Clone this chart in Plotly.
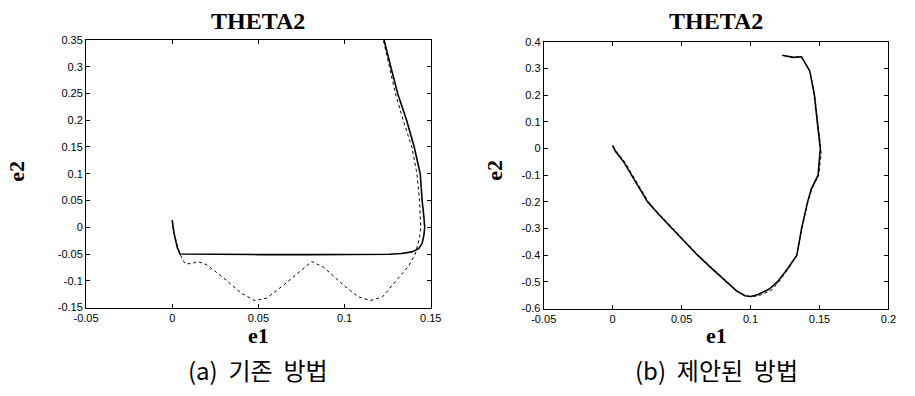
import plotly.graph_objects as go

# ---- data: panel (a) conventional method ----
a_solid_e1 = [0.000, 0.0005, 0.001, 0.002, 0.003, 0.0045, 0.02, 0.05, 0.08, 0.11, 0.126, 0.133, 0.139, 0.143,
              0.145, 0.146, 0.1465, 0.146, 0.145, 0.1439, 0.1404, 0.136, 0.1308, 0.1268, 0.1229]
a_solid_e2 = [0.013, 0.0, -0.01, -0.025, -0.038, -0.05, -0.0505, -0.051, -0.051, -0.051, -0.0505, -0.049, -0.046, -0.04,
              -0.03, -0.015, 0.0, 0.02, 0.05, 0.1, 0.15, 0.2, 0.25, 0.3, 0.35]
a_dash_e1 = [0.000, 0.001, 0.003, 0.0045, 0.0074, 0.011, 0.015, 0.02, 0.03, 0.04, 0.048, 0.055, 0.065, 0.075, 0.081,
             0.088, 0.1, 0.108, 0.115, 0.122, 0.13, 0.137, 0.141, 0.1435, 0.1442, 0.1435, 0.142, 0.139, 0.134,
             0.1295, 0.126, 0.1225]
a_dash_e2 = [0.013, -0.01, -0.035, -0.05, -0.068, -0.068, -0.064, -0.07, -0.095, -0.123, -0.137, -0.132, -0.107, -0.08,
             -0.064, -0.075, -0.11, -0.13, -0.137, -0.13, -0.1, -0.073, -0.05, -0.02, 0.0, 0.05, 0.1, 0.15, 0.2,
             0.25, 0.3, 0.35]

# ---- data: panel (b) proposed method ----
b_solid_e1 = [0.000, 0.002, 0.008, 0.016, 0.0253, 0.034, 0.043, 0.052, 0.0616, 0.072, 0.0828, 0.09, 0.096, 0.1,
              0.105, 0.1136, 0.1195, 0.127, 0.1336, 0.137, 0.1414, 0.1442, 0.149, 0.1506, 0.1506, 0.1484, 0.1463,
              0.143, 0.139, 0.137, 0.131, 0.127, 0.123]
b_solid_e2 = [0.011, -0.01, -0.05, -0.12, -0.2, -0.25, -0.3, -0.35, -0.4, -0.45, -0.5, -0.535, -0.552, -0.555,
              -0.548, -0.527, -0.5, -0.45, -0.4, -0.3, -0.2, -0.15, -0.1, -0.02, 0.0, 0.1, 0.2,
              0.29, 0.33, 0.344, 0.342, 0.345, 0.35]
b_dash_e1 = [0.000, 0.003, 0.009, 0.017, 0.026, 0.035, 0.044, 0.053, 0.062, 0.073, 0.083, 0.091, 0.097, 0.101,
             0.107, 0.115, 0.1205, 0.1275, 0.1335, 0.1372, 0.1416, 0.1445, 0.1495, 0.1512, 0.151, 0.1488, 0.1465,
             0.143, 0.139, 0.137, 0.131, 0.127, 0.123]
b_dash_e2 = [0.011, -0.012, -0.052, -0.122, -0.2, -0.252, -0.3, -0.352, -0.4, -0.452, -0.5, -0.537, -0.553, -0.556,
             -0.55, -0.532, -0.5, -0.45, -0.4, -0.3, -0.2, -0.15, -0.1, -0.02, 0.0, 0.1, 0.2,
             0.29, 0.33, 0.344, 0.342, 0.345, 0.35]

# ---- tick labels ----
a_xticks = [-0.05, 0, 0.05, 0.1, 0.15]
a_xlabels = ["-0.05", "0", "0.05", "0.1", "0.15"]
a_yticks = [0.35, 0.3, 0.25, 0.2, 0.15, 0.1, 0.05, 0, -0.05, -0.1, -0.15]
a_ylabels = ["0.35", "0.3", "0.25", "0.2", "0.15", "0.1", "0.05", "0", "-0.05", "-0.1", "-0.15"]
b_xticks = [-0.05, 0, 0.05, 0.1, 0.15, 0.2]
b_xlabels = ["-0.05", "0", "0.05", "0.1", "0.15", "0.2"]
b_yticks = [0.4, 0.3, 0.2, 0.1, 0, -0.1, -0.2, -0.3, -0.4, -0.5, -0.6]
b_ylabels = ["0.4", "0.3", "0.2", "0.1", "0", "-0.1", "-0.2", "-0.3", "-0.4", "-0.5", "-0.6"]

titles = ["THETA2", "THETA2"]
captions = ["(a)\u00a0 기존\u00a0 방법", "(b)\u00a0 제안된\u00a0 방법"]

W, H = 915, 396
fig = go.Figure()

solid = dict(color="black", width=1.6)
dashed = dict(color="black", width=1, dash="3px,3px")

fig.add_trace(go.Scatter(x=a_dash_e1, y=a_dash_e2, mode="lines", line=dashed, xaxis="x", yaxis="y", showlegend=False))
fig.add_trace(go.Scatter(x=a_solid_e1, y=a_solid_e2, mode="lines", line=solid, xaxis="x", yaxis="y", showlegend=False))
fig.add_trace(go.Scatter(x=b_dash_e1, y=b_dash_e2, mode="lines", line=dashed, xaxis="x2", yaxis="y2", showlegend=False))
fig.add_trace(go.Scatter(x=b_solid_e1, y=b_solid_e2, mode="lines", line=solid, xaxis="x2", yaxis="y2", showlegend=False))

tickfont = dict(family="Liberation Sans, Arial, sans-serif", size=11, color="black")
axcommon = dict(showline=True, linecolor="black", linewidth=1, mirror="ticks", ticks="inside",
                ticklen=4, tickcolor="black", showgrid=False, zeroline=False, tickfont=tickfont)

# pixel-based domains
ax_l = (75, 429); ay_l = (35, 311)
ax_r = (545, 899); ay_r = (37, 312)

def xd(p): return [p[0] / W, p[1] / W]
def yd(p): return [1 - p[1] / H, 1 - p[0] / H]

fig.update_layout(
    width=W, height=H, margin=dict(l=0, r=0, t=0, b=0),
    paper_bgcolor="white", plot_bgcolor="white",
    xaxis=dict(domain=xd(ax_l), range=[-0.05, 0.15], tickvals=a_xticks, ticktext=a_xlabels, anchor="y", **axcommon),
    yaxis=dict(domain=yd(ay_l), range=[-0.15, 0.35], tickvals=a_yticks, ticktext=a_ylabels, anchor="x", **axcommon),
    xaxis2=dict(domain=xd(ax_r), range=[-0.05, 0.2], tickvals=b_xticks, ticktext=b_xlabels, anchor="y2", **axcommon),
    yaxis2=dict(domain=yd(ay_r), range=[-0.6, 0.4], tickvals=b_yticks, ticktext=b_ylabels, anchor="x2", **axcommon),
)

serif = "Liberation Serif, Times New Roman, serif"
kfont = "Noto Sans CJK KR, sans-serif"
ann = []
for cx, e2x, t, c in [((75 + 429) / 2, 4, titles[0], captions[0]),
                      ((545 + 899) / 2, 495, titles[1], captions[1])]:
    ann.append(dict(text="<b>%s</b>" % t, x=cx / W, y=1 - 15 / H, xref="paper", yref="paper",
                    showarrow=False, font=dict(family=serif, size=24, color="black"), xanchor="center", yanchor="middle"))
    ann.append(dict(text="<b>e1</b>", x=cx / W, y=1 - 340 / H, xref="paper", yref="paper",
                    showarrow=False, font=dict(family=serif, size=22, color="black"), xanchor="center", yanchor="middle"))
    ann.append(dict(text="<b>e2</b>", x=e2x / W, y=1 - 170 / H, xref="paper", yref="paper", textangle=-90,
                    showarrow=False, font=dict(family=serif, size=22, color="black"), xanchor="center", yanchor="middle"))
    ann.append(dict(text=c, x=cx / W, y=1 - 375 / H, xref="paper", yref="paper",
                    showarrow=False, font=dict(family=kfont, size=24, color="black"), xanchor="center", yanchor="middle"))
fig.update_layout(annotations=ann)

fig.write_html("out.html")
